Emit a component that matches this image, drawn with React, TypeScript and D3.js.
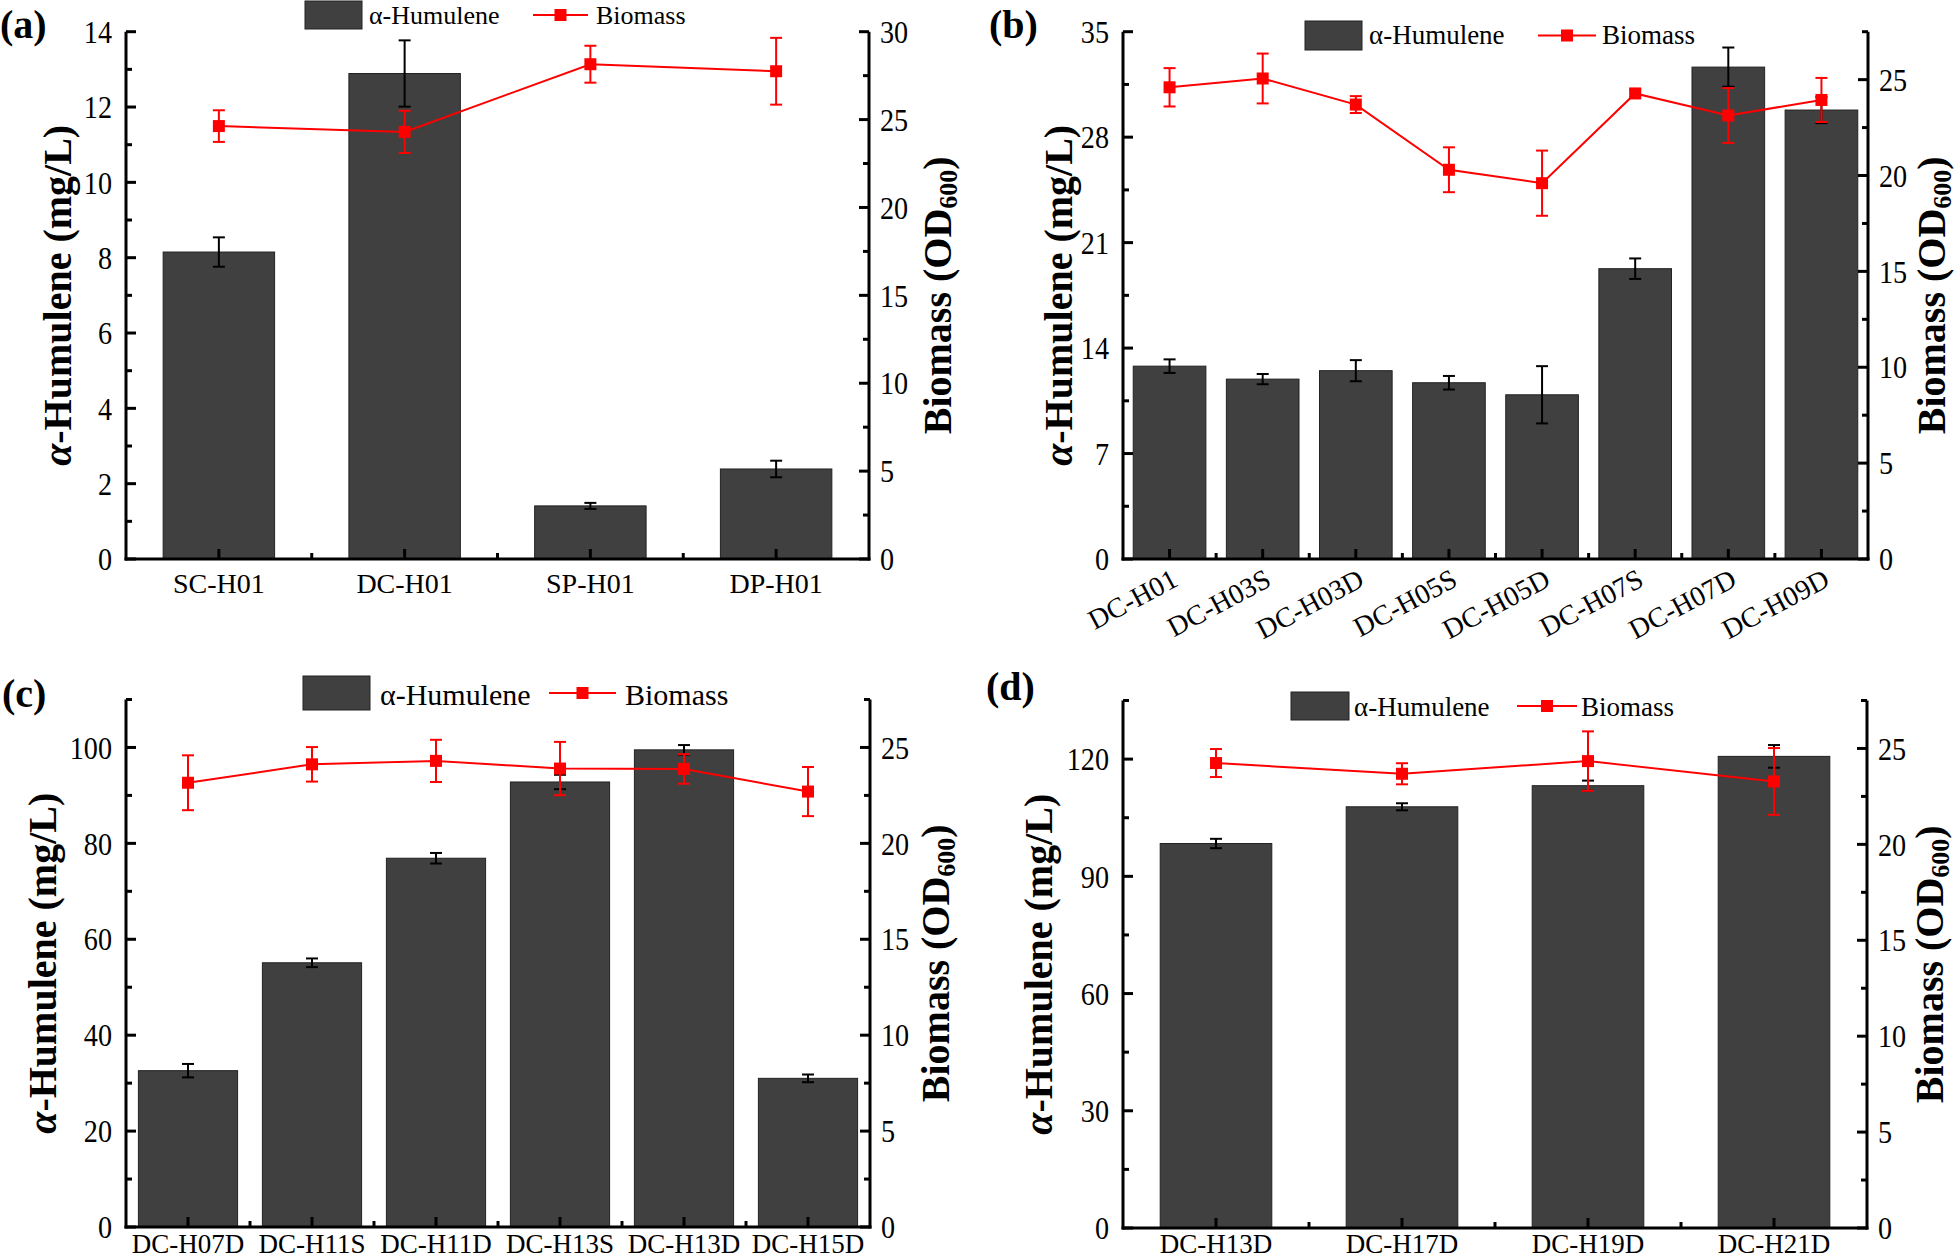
import * as d3 from "d3";

const FONT = "'Liberation Serif', 'Times New Roman', serif";
const BAR = "#404040";
const RED = "#ff0000";

// (a)
const catsA = ["SC-H01", "DC-H01", "SP-H01", "DP-H01"];
const humA = [8.15, 12.89, 1.41, 2.39];
const humErrA = [0.39, 0.88, 0.08, 0.22];
const bioA = [24.63, 24.3, 28.15, 27.75];
const bioErrA = [0.9, 1.2, 1.05, 1.9];

// (b)
const catsB = ["DC-H01", "DC-H03S", "DC-H03D", "DC-H05S", "DC-H05D", "DC-H07S", "DC-H07D", "DC-H09D"];
const humB = [12.8, 11.94, 12.5, 11.7, 10.9, 19.27, 32.65, 29.8];
const humErrB = [0.45, 0.34, 0.7, 0.45, 1.9, 0.68, 1.3, 0.87];
const bioB = [24.6, 25.06, 23.7, 20.3, 19.6, 24.28, 23.13, 23.94];
const bioErrB = [1.0, 1.3, 0.44, 1.17, 1.7, 0.2, 1.43, 1.15];

// (c)
const catsC = ["DC-H07D", "DC-H11S", "DC-H11D", "DC-H13S", "DC-H13D", "DC-H15D"];
const humC = [32.6, 55.1, 76.9, 92.8, 99.5, 31.0];
const humErrC = [1.4, 0.9, 1.1, 1.5, 1.0, 0.8];
const bioC = [23.16, 24.12, 24.3, 23.9, 23.88, 22.7];
const bioErrC = [1.43, 0.9, 1.1, 1.39, 0.77, 1.28];

// (d)
const catsD = ["DC-H13D", "DC-H17D", "DC-H19D", "DC-H21D"];
const humD = [98.4, 107.8, 113.2, 120.7];
const humErrD = [1.2, 0.9, 1.3, 2.9];
const bioD = [24.24, 23.68, 24.34, 23.28];
const bioErrD = [0.73, 0.55, 1.55, 1.74];

const panels = [
  {
    tag: "(a)", tagX: 0, tagY: 38,
    left: 126, right: 869, top: 31.7, bottom: 559,
    yMax: 14, yStep: 2, rMax: 30, pad: 0.4,
    labelY: 593, labelFs: 28, rotate: false,
    leftTitleX: 71, rightTitleX: 951,
    legend: { rx: 305, ry: 1, rw: 57, rh: 28, tx: 369, l1: 533, l2: 588, bx: 596, by: 24, fs: 26 },
    cats: catsA, hum: humA, humErr: humErrA, bio: bioA, bioErr: bioErrA,
  },
  {
    tag: "(b)", tagX: 989, tagY: 38,
    left: 1123, right: 1868, top: 31.7, bottom: 559,
    yMax: 35, yStep: 7, rMax: 27.5, pad: 0.22,
    labelY: 585, labelFs: 28, rotate: true,
    leftTitleX: 1072, rightTitleX: 1945,
    legend: { rx: 1305, ry: 21, rw: 57, rh: 29, tx: 1369, l1: 1538, l2: 1596, bx: 1602, by: 44, fs: 27 },
    cats: catsB, hum: humB, humErr: humErrB, bio: bioB, bioErr: bioErrB,
  },
  {
    tag: "(c)", tagX: 2, tagY: 707,
    left: 126, right: 870, top: 699.5, bottom: 1227,
    yMax: 110, yStep: 20, rMax: 27.5, pad: 0.2,
    labelY: 1253, labelFs: 27, rotate: false,
    leftTitleX: 56, rightTitleX: 949,
    legend: { rx: 303, ry: 676, rw: 67, rh: 34, tx: 380, l1: 549, l2: 616, bx: 625, by: 705, fs: 30 },
    cats: catsC, hum: humC, humErr: humErrC, bio: bioC, bioErr: bioErrC,
  },
  {
    tag: "(d)", tagX: 986, tagY: 700,
    left: 1123, right: 1867, top: 700.5, bottom: 1228,
    yMax: 135, yStep: 30, rMax: 27.5, pad: 0.4,
    labelY: 1253, labelFs: 27, rotate: false,
    leftTitleX: 1052, rightTitleX: 1943,
    legend: { rx: 1291, ry: 692, rw: 58, rh: 28, tx: 1354, l1: 1517, l2: 1577, bx: 1581, by: 716, fs: 27 },
    cats: catsD, hum: humD, humErr: humErrD, bio: bioD, bioErr: bioErrD,
  },
];

// narrow, tall digits like the original export
function Num({ x, y, anchor, children }) {
  return (
    <text transform={`translate(${x},${y}) scale(0.88,1)`} dy="0.35em" textAnchor={anchor}>{children}</text>
  );
}

function Panel({ p }) {
  const x = d3.scaleBand().domain(p.cats).range([p.left, p.right])
    .paddingInner(p.pad).paddingOuter(p.pad / 2);
  const y = d3.scaleLinear().domain([0, p.yMax]).range([p.bottom, p.top]);
  const yr = d3.scaleLinear().domain([0, p.rMax]).range([p.bottom, p.top]);
  const cx = (c) => x(c) + x.bandwidth() / 2;

  const yMajor = d3.range(0, p.yMax + 1e-6, p.yStep);
  const yMinor = d3.range(p.yStep / 2, p.yMax + 1e-6, p.yStep);
  const rMajor = d3.range(0, p.rMax + 1e-6, 5);
  const rMinor = d3.range(2.5, p.rMax + 1e-6, 5);
  const bounds = p.cats.slice(1).map((c) => x(c) - (x.step() - x.bandwidth()) / 2);

  const line = d3.line().x((d, i) => cx(p.cats[i])).y((d) => yr(d));
  const cap = 6;
  const lg = p.legend;
  const midY = (p.top + p.bottom) / 2;

  return (
    <g fontFamily={FONT}>
      <text x={p.tagX} y={p.tagY} fontSize={40} fontWeight="bold">{p.tag}</text>

      {/* bars */}
      {p.cats.map((c, i) => (
        <rect key={c} x={x(c)} y={y(p.hum[i])} width={x.bandwidth()} height={p.bottom - y(p.hum[i])}
          fill={BAR} stroke="#222" strokeWidth={1} />
      ))}
      {p.cats.map((c, i) => {
        const hi = y(p.hum[i] + p.humErr[i]);
        const lo = y(p.hum[i] - p.humErr[i]);
        return (
          <g key={c} stroke="#000" strokeWidth={2}>
            <line x1={cx(c)} x2={cx(c)} y1={hi} y2={lo} />
            <line x1={cx(c) - cap} x2={cx(c) + cap} y1={hi} y2={hi} />
            <line x1={cx(c) - cap} x2={cx(c) + cap} y1={lo} y2={lo} />
          </g>
        );
      })}

      {/* biomass */}
      <path d={line(p.bio)} fill="none" stroke={RED} strokeWidth={2} />
      {p.cats.map((c, i) => {
        const hi = yr(p.bio[i] + p.bioErr[i]);
        const lo = yr(p.bio[i] - p.bioErr[i]);
        return (
          <g key={c} stroke={RED} strokeWidth={2}>
            <line x1={cx(c)} x2={cx(c)} y1={hi} y2={lo} />
            <line x1={cx(c) - cap} x2={cx(c) + cap} y1={hi} y2={hi} />
            <line x1={cx(c) - cap} x2={cx(c) + cap} y1={lo} y2={lo} />
            <rect x={cx(c) - 6} y={yr(p.bio[i]) - 6} width={12} height={12} fill={RED} stroke="none" />
          </g>
        );
      })}

      {/* axes */}
      <g stroke="#000" strokeWidth={3} fill="none">
        <line x1={p.left} x2={p.left} y1={p.top} y2={p.bottom + 1.5} />
        <line x1={p.right} x2={p.right} y1={p.top} y2={p.bottom + 1.5} />
        <line x1={p.left - 1.5} x2={p.right + 1.5} y1={p.bottom} y2={p.bottom} />
        {yMajor.map((t) => <line key={"M" + t} x1={p.left} x2={p.left + 10} y1={y(t)} y2={y(t)} />)}
        {yMinor.map((t) => <line key={"m" + t} x1={p.left} x2={p.left + 6} y1={y(t)} y2={y(t)} />)}
        {rMajor.map((t) => <line key={"R" + t} x1={p.right} x2={p.right - 10} y1={yr(t)} y2={yr(t)} />)}
        {rMinor.map((t) => <line key={"r" + t} x1={p.right} x2={p.right - 6} y1={yr(t)} y2={yr(t)} />)}
        {p.cats.map((c) => <line key={c} x1={cx(c)} x2={cx(c)} y1={p.bottom} y2={p.bottom - 10} />)}
        {bounds.map((b) => <line key={b} x1={b} x2={b} y1={p.bottom} y2={p.bottom - 6} />)}
      </g>

      {/* tick labels */}
      <g fontSize={32}>
        {yMajor.map((t) => <Num key={t} x={p.left - 14} y={y(t)} anchor="end">{t}</Num>)}
        {rMajor.map((t) => <Num key={t} x={p.right + 11} y={yr(t)} anchor="start">{t}</Num>)}
      </g>
      <g fontSize={p.labelFs}>
        {p.cats.map((c) =>
          p.rotate ? (
            <text key={c} textAnchor="end" transform={`translate(${cx(c) + 10},${p.labelY}) rotate(-28)`}>{c}</text>
          ) : (
            <text key={c} x={cx(c)} y={p.labelY} textAnchor="middle">{c}</text>
          )
        )}
      </g>

      {/* axis titles */}
      <text transform={`translate(${p.leftTitleX},${midY}) rotate(-90)`}
        textAnchor="middle" fontSize={40} fontWeight="bold">
        <tspan fontStyle="italic">α</tspan>-Humulene (mg/L)
      </text>
      <text transform={`translate(${p.rightTitleX},${midY}) rotate(-90)`}
        textAnchor="middle" fontSize={40} fontWeight="bold">
        Biomass (OD<tspan fontSize={26} dy={6}>600</tspan><tspan dy={-6}>)</tspan>
      </text>

      {/* legend */}
      <rect x={lg.rx} y={lg.ry} width={lg.rw} height={lg.rh} fill={BAR} stroke="#222" strokeWidth={1} />
      <text x={lg.tx} y={lg.by} fontSize={lg.fs}>α-Humulene</text>
      <line x1={lg.l1} x2={lg.l2} y1={lg.ry + lg.rh / 2} y2={lg.ry + lg.rh / 2} stroke={RED} strokeWidth={2} />
      <rect x={(lg.l1 + lg.l2) / 2 - 6} y={lg.ry + lg.rh / 2 - 6} width={12} height={12} fill={RED} />
      <text x={lg.bx} y={lg.by} fontSize={lg.fs}>Biomass</text>
    </g>
  );
}

export default function App() {
  return (
    <div>
      <style>{`body{margin:0;background:#fff}`}</style>
      <svg width={1960} height={1260} style={{ display: "block" }}>
        <rect width={1960} height={1260} fill="#fff" />
        {panels.map((p) => <Panel key={p.tag} p={p} />)}
      </svg>
    </div>
  );
}
